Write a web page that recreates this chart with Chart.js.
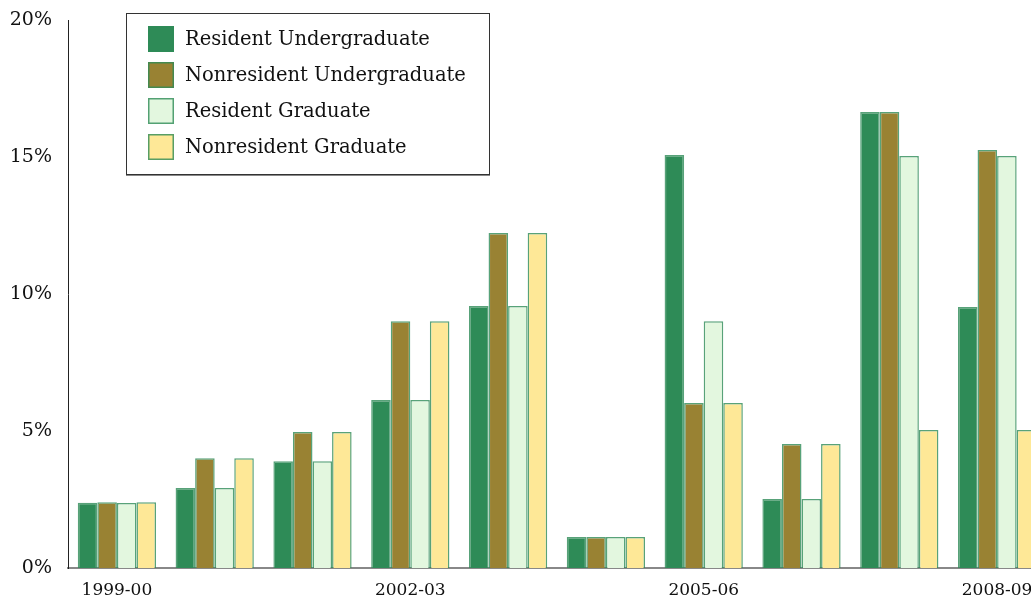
<!DOCTYPE html>
<html>
<head>
<meta charset="utf-8">
<script src="https://cdn.jsdelivr.net/npm/chart.js@4.4.1/dist/chart.umd.min.js"></script>
<style>
  html, body { margin:0; padding:0; background:#fff; overflow:hidden; width:1031px; height:602px; }
  #wrap { width:1046px; height:602px; position:relative; }
</style>
</head>
<body>
<div id="wrap"><canvas id="chart"></canvas></div>
<script>
const categories = ['1999-00','2000-01','2001-02','2002-03','2003-04','2004-05','2005-06','2006-07','2007-08','2008-09'];
const seriesNames = ['Resident Undergraduate','Nonresident Undergraduate','Resident Graduate','Nonresident Graduate'];
const residentUndergrad    = [2.38, 2.92, 3.90, 6.13,  9.56, 1.13, 15.07, 2.52, 16.64,  9.53];
const nonresidentUndergrad = [2.40, 4.01, 4.96, 9.01, 12.23, 1.13,  6.02, 4.53, 16.64, 15.26];
const residentGrad         = [2.37, 2.92, 3.90, 6.13,  9.56, 1.13,  9.01, 2.52, 15.04, 15.04];
const nonresidentGrad      = [2.40, 4.01, 4.96, 9.01, 12.23, 1.13,  6.02, 4.53,  5.04,  5.04];
const yTicks = [0, 5, 10, 15, 20];

const fills = ['#2e8b57', '#998233', '#e3f7df', '#fee897'];
const edge = 'rgba(46,139,87,0.8)';
const FONT = "'DejaVu Serif', serif";

// legend drawn in a box over the plot, like the original
const boxLegend = {
  id: 'boxLegend',
  afterDraw(chart) {
    const ctx = chart.ctx;
    ctx.save();
    ctx.fillStyle = '#fff';
    ctx.fillRect(126, 13, 364, 162);
    ctx.strokeStyle = '#888';
    ctx.lineWidth = 2;
    ctx.beginPath(); ctx.moveTo(126, 175); ctx.lineTo(490, 175); ctx.stroke();
    ctx.strokeStyle = '#333';
    ctx.lineWidth = 1;
    ctx.strokeRect(126.5, 13.5, 363, 161);
    chart.data.datasets.forEach((ds, i) => {
      const y = 26 + i * 36;
      ctx.fillStyle = ds.backgroundColor;
      ctx.fillRect(148, y, 26, 26);
      ctx.strokeStyle = edge;
      ctx.lineWidth = 1.5;
      ctx.strokeRect(148.75, y + 0.75, 24.5, 24.5);
      ctx.fillStyle = '#111';
      ctx.font = '19.5px ' + FONT;
      ctx.textBaseline = 'middle';
      ctx.textAlign = 'left';
      ctx.fillText(ds.label, 185, y + 14);
    });
    ctx.restore();
  }
};

new Chart(document.getElementById('chart'), {
  type: 'bar',
  data: {
    labels: categories,
    datasets: [residentUndergrad, nonresidentUndergrad, residentGrad, nonresidentGrad].map((d, i) => ({
      label: seriesNames[i],
      data: d,
      backgroundColor: fills[i],
      borderColor: edge,
      borderWidth: 1.5,
      categoryPercentage: 0.8,
      barPercentage: 1.0
    }))
  },
  options: {
    responsive: true,
    maintainAspectRatio: false,
    animation: false,
    layout: { padding: { top: 20, left: 0, right: 0, bottom: 0 } },
    plugins: { legend: { display: false }, tooltip: { enabled: false } },
    scales: {
      x: {
        grid: { display: false, drawTicks: false },
        border: { display: true, color: '#888', width: 2 },
        ticks: {
          autoSkip: false, maxRotation: 0, padding: 12,
          color: '#111', font: { family: FONT, size: 17 },
          callback: (v, i) => i % 3 === 0 ? categories[i] : ''
        },
        afterFit: s => { s.height = 34; s.paddingLeft = 0; s.paddingRight = 0; }
      },
      y: {
        min: 0, max: 20,
        grid: { display: false, drawTicks: false },
        border: { display: true, color: '#222', width: 1 },
        afterBuildTicks: s => { s.ticks = yTicks.map(v => ({ value: v })); },
        ticks: {
          padding: 16, color: '#111', font: { family: FONT, size: 19 },
          callback: v => v + '%'
        },
        afterFit: s => { s.width = 68; s.paddingTop = 0; s.paddingBottom = 0; }
      }
    }
  },
  plugins: [boxLegend]
});
</script>
</body>
</html>
